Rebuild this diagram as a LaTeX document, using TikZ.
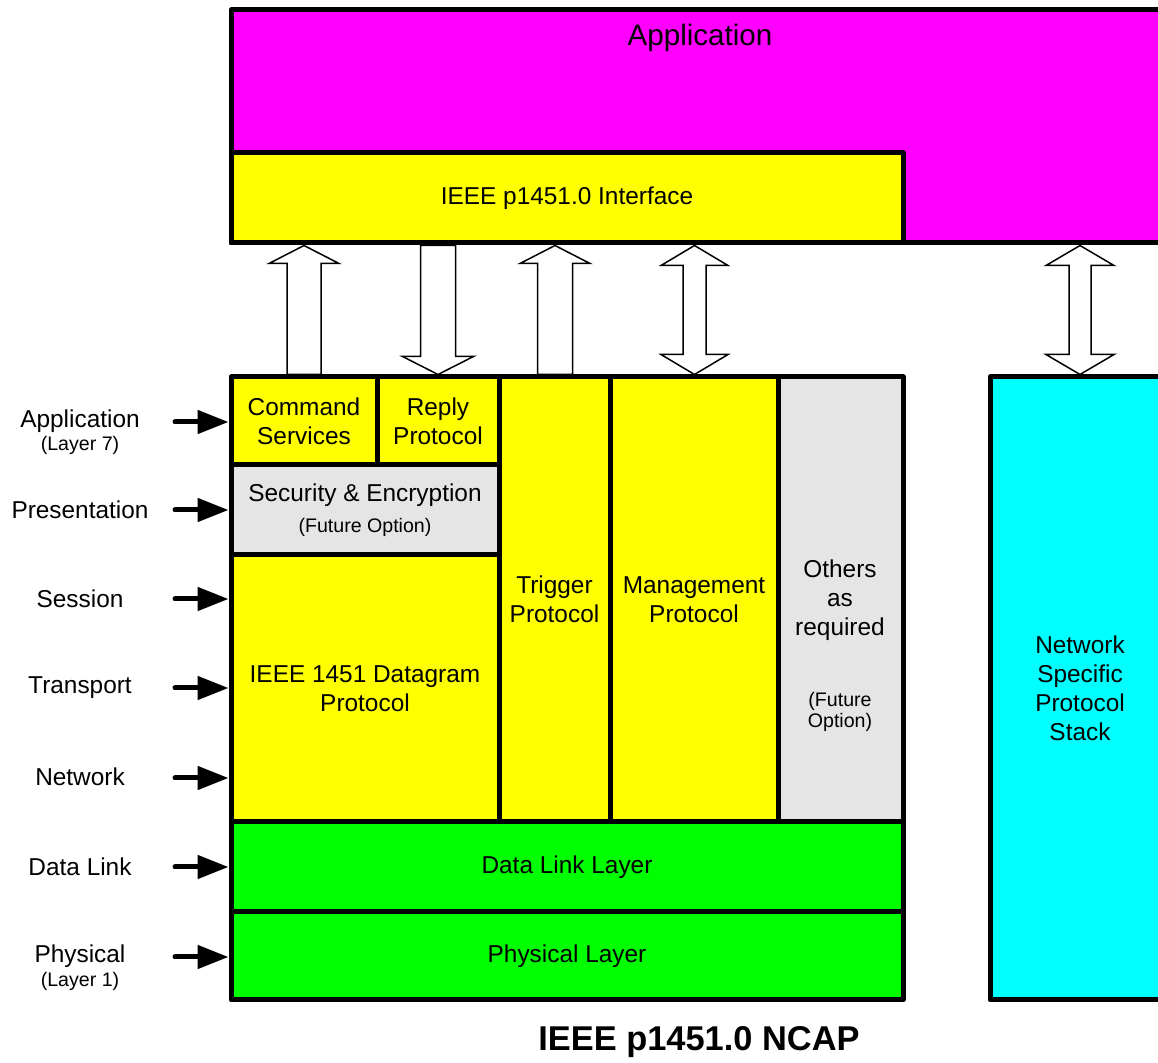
\documentclass[tikz,border=0pt]{standalone}
\usepackage{fontspec}
\setmainfont{Liberation Sans}
\usetikzlibrary{arrows.meta,calc}

\definecolor{appfill}{RGB}{255,0,255}
\definecolor{ncapfill}{RGB}{255,255,0}
\definecolor{linkfill}{RGB}{0,255,0}
\definecolor{stackfill}{RGB}{0,255,255}
\definecolor{optfill}{RGB}{229,229,229}

\newcommand\mainsz{\fontsize{12.2pt}{14.5pt}\selectfont}
\newcommand\smallsz{\fontsize{9.8pt}{10.8pt}\selectfont}

\tikzset{
  cell/.style={draw=black, line width=2.5pt, line join=round, anchor=north west,
    inner sep=0pt, outer sep=0pt, align=center, font=\mainsz},
  sz/.style 2 args={minimum width=#1*0.5pt, minimum height=#2*0.5pt},
  txt/.style={inner sep=0pt, align=center, font=\mainsz},
  smalltxt/.style={inner sep=0pt, align=center, font=\smallsz},
  blockarrow/.style={draw=black, fill=white, line width=0.75pt, line join=miter},
  layerarrow/.style={line width=2.5pt, line cap=round,
    -{Triangle[length=15.5pt,width=11.5pt]}, shorten >=1.25pt},
}

% hollow block arrows between two boxes: x centre, upper anchor, lower anchor,
% half shaft width, half head width, head length (all in pixel units)
\newcommand\blockup[6]{%
  \draw[blockarrow] let \p1=(#2), \p2=(#3) in
    (#1*0.5pt,{\y1-1.25pt})
    -- ({(#1+#5)*0.5pt},{\y1-1.25pt-#6*0.5pt})
    -- ({(#1+#4)*0.5pt},{\y1-1.25pt-#6*0.5pt})
    -- ({(#1+#4)*0.5pt},{\y2+1.25pt})
    -- ({(#1-#4)*0.5pt},{\y2+1.25pt})
    -- ({(#1-#4)*0.5pt},{\y1-1.25pt-#6*0.5pt})
    -- ({(#1-#5)*0.5pt},{\y1-1.25pt-#6*0.5pt}) -- cycle;}
\newcommand\blockdown[6]{%
  \draw[blockarrow] let \p1=(#2), \p2=(#3) in
    (#1*0.5pt,{\y2+1.25pt})
    -- ({(#1+#5)*0.5pt},{\y2+1.25pt+#6*0.5pt})
    -- ({(#1+#4)*0.5pt},{\y2+1.25pt+#6*0.5pt})
    -- ({(#1+#4)*0.5pt},{\y1-1.25pt})
    -- ({(#1-#4)*0.5pt},{\y1-1.25pt})
    -- ({(#1-#4)*0.5pt},{\y2+1.25pt+#6*0.5pt})
    -- ({(#1-#5)*0.5pt},{\y2+1.25pt+#6*0.5pt}) -- cycle;}
\newcommand\blockboth[6]{%
  \draw[blockarrow] let \p1=(#2), \p2=(#3) in
    (#1*0.5pt,{\y1-1.25pt})
    -- ({(#1+#5)*0.5pt},{\y1-1.25pt-#6*0.5pt})
    -- ({(#1+#4)*0.5pt},{\y1-1.25pt-#6*0.5pt})
    -- ({(#1+#4)*0.5pt},{\y2+1.25pt+#6*0.5pt})
    -- ({(#1+#5)*0.5pt},{\y2+1.25pt+#6*0.5pt})
    -- (#1*0.5pt,{\y2+1.25pt})
    -- ({(#1-#5)*0.5pt},{\y2+1.25pt+#6*0.5pt})
    -- ({(#1-#4)*0.5pt},{\y2+1.25pt+#6*0.5pt})
    -- ({(#1-#4)*0.5pt},{\y1-1.25pt-#6*0.5pt})
    -- ({(#1-#5)*0.5pt},{\y1-1.25pt-#6*0.5pt}) -- cycle;}

\begin{document}
\begin{tikzpicture}[x=0.5pt, y=-0.5pt]
\clip (0,0) rectangle (1158,1063);
\fill[white] (0,0) rectangle (1158,1063);

% application layer on top
\node[cell, fill=appfill, sz={950}{233}] (app) at (231,10) {};
\node[txt, font=\fontsize{14.8pt}{17pt}\selectfont] (apptxt) at (700,38) {Application};
\node[cell, fill=ncapfill, sz={672}{90}] (iface) at (231,153) {IEEE p1451.0 Interface};

% NCAP protocol stack
\node[cell, fill=ncapfill, sz={146}{88}] (cmd) at (231,377) {Command\\Services};
\node[cell, fill=ncapfill, sz={122}{88}] (rep) at (377,377) {Reply\\Protocol};
\node[cell, fill=optfill, sz={268}{90}] (sec) at (231,465) {Security \& Encryption\\[1pt]{\smallsz (Future Option)}};
\node[cell, fill=ncapfill, sz={268}{267}] (dg) at (231,555) {IEEE 1451 Datagram\\Protocol};
\node[cell, fill=ncapfill, sz={111}{445}] (trg) at (499,377) {Trigger\\Protocol};
\node[cell, fill=ncapfill, sz={168}{445}] (mgt) at (610,377) {Management\\Protocol};
\node[cell, fill=optfill, sz={125}{445}] (oth) at (778,377) {};
\node[txt] (othtxt) at (840,600) {Others\\as\\required};
\node[smalltxt] (othnote) at (840,712) {(Future\\Option)};
\node[cell, fill=linkfill, sz={672}{90}] (dl) at (231,822) {Data Link Layer};
\node[cell, fill=linkfill, sz={672}{88}] (ph) at (231,912) {Physical Layer};

% network specific stack
\node[cell, fill=stackfill, sz={180}{623}] (nsp) at (990,377) {Network\\Specific\\Protocol\\Stack};

% block arrows between the interface and the stacks
\blockup{304}{iface.south}{cmd.north}{17}{35}{18}
\blockdown{438}{iface.south}{rep.north}{17.5}{35.5}{18}
\blockup{555}{iface.south}{trg.north}{17.5}{35}{18}
\blockboth{694.5}{iface.south}{mgt.north}{11.5}{33.5}{20}
\blockboth{1080}{app.south}{nsp.north}{11}{34}{20}

% OSI layer labels
\node[txt] (l7) at (80,421) {Application};
\node[smalltxt] (l7s) at (80,445) {(Layer 7)};
\node[txt] (l6) at (80,510) {Presentation};
\node[txt] (l5) at (80,599) {Session};
\node[txt] (l4) at (80,688) {Transport};
\node[txt] (l3) at (80,777) {Network};
\node[txt] (l2) at (80,867) {Data Link};
\node[txt] (l1) at (80,956) {Physical};
\node[smalltxt] (l1s) at (80,981) {(Layer 1)};

\coordinate (a7) at (175,422);
\coordinate (a6) at (175,510);
\coordinate (a5) at (175,599);
\coordinate (a4) at (175,688);
\coordinate (a3) at (175,778);
\coordinate (a2) at (175,867);
\coordinate (a1) at (175,957);
\draw[layerarrow] (a7) -- (a7 -| cmd.west);
\draw[layerarrow] (a6) -- (a6 -| sec.west);
\draw[layerarrow] (a5) -- (a5 -| dg.west);
\draw[layerarrow] (a4) -- (a4 -| dg.west);
\draw[layerarrow] (a3) -- (a3 -| dg.west);
\draw[layerarrow] (a2) -- (a2 -| dl.west);
\draw[layerarrow] (a1) -- (a1 -| ph.west);

% caption
\node[inner sep=0pt, font=\bfseries\fontsize{17.2pt}{20pt}\selectfont] (ttl) at (699,1042) {IEEE p1451.0 NCAP};
\end{tikzpicture}
\end{document}
